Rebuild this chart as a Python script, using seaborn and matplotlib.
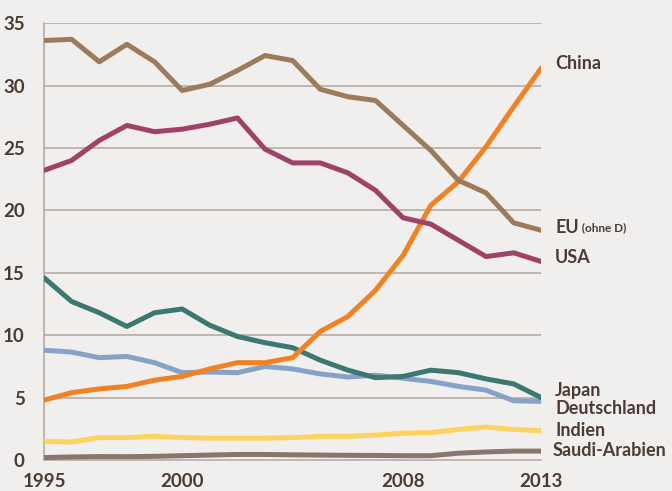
####
#imports
####

import numpy as np
import pandas as pd
import matplotlib
matplotlib.use("Agg")
import matplotlib.pyplot as plt
import seaborn as sns

####
#data
####

years = list(range(1995, 2014))

eu = [33.6, 33.7, 31.9, 33.3, 31.9, 29.6, 30.1, 31.2, 32.4, 32.0, 29.7, 29.1, 28.8,
      26.8, 24.8, 22.4, 21.4, 19.0, 18.4]
usa = [23.2, 24.0, 25.6, 26.8, 26.3, 26.5, 26.9, 27.4, 24.9, 23.8, 23.8, 23.0, 21.6,
       19.4, 18.9, 17.6, 16.3, 16.6, 15.9]
china = [4.8, 5.4, 5.7, 5.9, 6.4, 6.7, 7.3, 7.8, 7.8, 8.2, 10.3, 11.5, 13.6,
         16.4, 20.4, 22.3, 25.1, 28.3, 31.4]
japan = [14.6, 12.7, 11.8, 10.7, 11.8, 12.1, 10.8, 9.9, 9.4, 9.0, 8.0, 7.2, 6.6,
         6.7, 7.2, 7.0, 6.5, 6.1, 5.0]
deutschland = [8.8, 8.65, 8.2, 8.3, 7.8, 7.0, 7.05, 7.0, 7.5, 7.3, 6.9, 6.65, 6.8,
               6.55, 6.3, 5.9, 5.6, 4.75, 4.7]
indien = [1.5, 1.45, 1.8, 1.8, 1.9, 1.8, 1.75, 1.75, 1.75, 1.8, 1.9, 1.9, 2.0,
          2.15, 2.2, 2.45, 2.65, 2.45, 2.35]
saudi = [0.2, 0.25, 0.28, 0.27, 0.3, 0.35, 0.4, 0.45, 0.45, 0.42, 0.4, 0.38, 0.37,
         0.35, 0.35, 0.55, 0.65, 0.72, 0.72]

series = {"EU": eu, "USA": usa, "China": china, "Japan": japan,
          "Deutschland": deutschland, "Indien": indien, "Saudi-Arabien": saudi}
colors = {"EU": "#9c7a5c", "USA": "#9f4267", "China": "#f08225", "Japan": "#3b786f",
          "Deutschland": "#86a2c6", "Indien": "#fdd25e", "Saudi-Arabien": "#86766d"}
tick_years = [1995, 2000, 2008, 2013]

####
#plot
####

bg = "#f0efed"
txt = "#4b3b33"
grid = "#b2a79e"

df = pd.DataFrame([(name, y, v) for name, vals in series.items() for y, v in zip(years, vals)],
                  columns=["land", "jahr", "wert"])

sns.set_style("white")
plt.rcParams["font.family"] = ["Lato", "DejaVu Sans"]

fig = plt.figure(figsize=(6.72, 4.91), dpi=100, facecolor=bg)
ax = fig.add_axes([0.0655, 0.063, 0.74, 0.89])
ax.set_facecolor(bg)

for y in range(5, 40, 5):
    ax.axhline(y, color=grid, lw=1.1, zorder=0)

order = ["Saudi-Arabien", "Indien", "Deutschland", "Japan", "China", "USA", "EU"]
sns.lineplot(data=df, x="jahr", y="wert", hue="land", hue_order=order,
             palette=colors, linewidth=3.6, legend=False, ax=ax,
             solid_capstyle="round", zorder=3)

ax.set_xlim(1995, 2013)
ax.set_ylim(0, 35)
ax.set_xlabel("")
ax.set_ylabel("")
ax.set_xticks(years)
ax.set_xticklabels([str(y) if y in tick_years else "" for y in years])
ax.set_yticks(range(0, 40, 5))
ax.tick_params(axis="x", direction="out", length=6, width=1.1, color=grid,
               labelsize=13.5, labelcolor=txt, pad=3)
ax.tick_params(axis="y", length=0, labelsize=13.5, labelcolor=txt, pad=14)
for lab in ax.get_xticklabels() + ax.get_yticklabels():
    lab.set_fontweight("bold")

for s in ["top", "right"]:
    ax.spines[s].set_visible(False)
for s in ["left", "bottom"]:
    ax.spines[s].set_color(grid)
    ax.spines[s].set_linewidth(1.1)
ax.spines["bottom"].set_zorder(1)

# labels right of the lines
labels = [("China", 31.8, 2013.5), ("Japan", 5.6, 2013.5), ("Deutschland", 4.1, 2013.5),
          ("Indien", 2.4, 2013.5), ("Saudi-Arabien", 0.75, 2013.4), ("USA", 16.2, 2013.5)]
for name, yv, xv in labels:
    ax.text(xv, yv, name, color=txt, fontsize=13, fontweight="bold",
            va="center", ha="left", clip_on=False)
t = ax.text(2013.5, 18.6, "EU", color=txt, fontsize=13, fontweight="bold",
            va="center", ha="left", clip_on=False)
ax.annotate(" (ohne D)", xy=(1, 0.5), xycoords=t, va="center", ha="left",
            fontsize=8.5, fontweight="bold", color=txt, annotation_clip=False)

fig.savefig("out.png", dpi=100, facecolor=bg)
